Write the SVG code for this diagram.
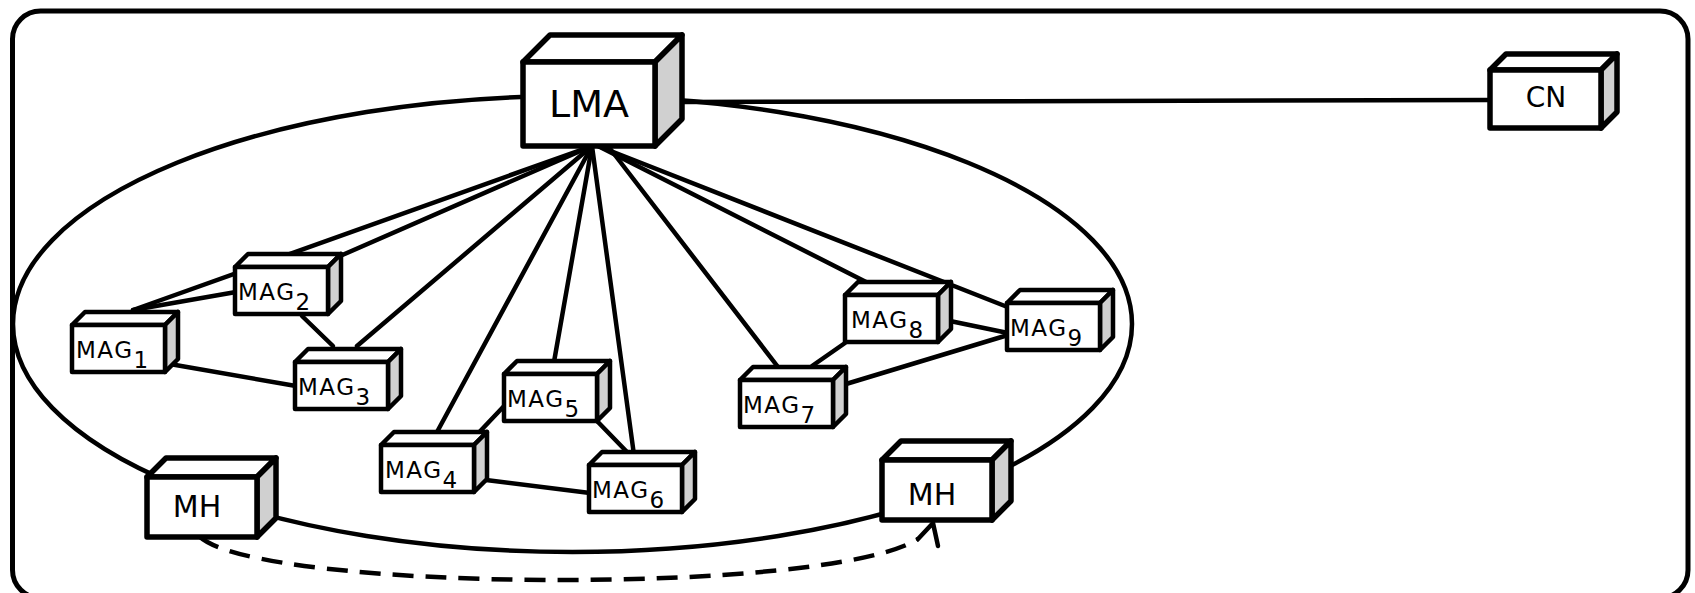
<svg xmlns="http://www.w3.org/2000/svg" xmlns:xlink="http://www.w3.org/1999/xlink" width="1695" height="593" viewBox="0 0 1695 593">
  <style>
    .frame { fill: none; stroke: #000; stroke-width: 5; }
    .domain { fill: none; stroke: #000; stroke-width: 4.5; }
    .link { stroke: #000; stroke-width: 4.5; fill: none; stroke-linecap: round; }
    .move { stroke: #000; stroke-width: 4.5; fill: none; stroke-dasharray: 21 12; }
    .tip { stroke: #000; stroke-width: 4.5; fill: none; stroke-linecap: round; stroke-linejoin: round; }
    .face { fill: #fff; stroke: #000; stroke-linejoin: round; }
    .side { fill: #d0d0d0; stroke: #000; stroke-linejoin: round; }
    .big { stroke-width: 5.5; }
    .small { stroke-width: 4.5; }
    .lbl { font-family: "DejaVu Sans", "Liberation Sans", sans-serif; fill: #000; }
    .mag { font-size: 23px; letter-spacing: 1.5px; }
  </style>
  <defs>
    <!-- small access-gateway box: front face 93x47, depth 13 -->
    <g id="magBox">
      <polygon class="face small" points="0,0 13,-13 106,-13 93,0"/>
      <polygon class="side small" points="93,0 106,-13 106,34 93,47"/>
      <rect class="face small" x="0" y="0" width="93" height="47"/>
    </g>
    <!-- host box: front face 110x60, depth 19 -->
    <g id="hostBox">
      <polygon class="face big" points="0,0 19,-19 129,-19 110,0"/>
      <polygon class="side big" points="110,0 129,-19 129,41 110,60"/>
      <rect class="face big" x="0" y="0" width="110" height="60"/>
    </g>
  </defs>

  <!-- outer frame -->
  <rect class="frame" x="12.5" y="11" width="1675.5" height="587" rx="28" ry="28"/>

  <!-- PMIPv6 domain -->
  <ellipse class="domain" cx="572.5" cy="324" rx="559.5" ry="228"/>

  <g id="connectors">
    <!-- LMA to CN -->
    <line class="link" x1="682" y1="102" x2="1490" y2="100"/>
    <!-- LMA to each MAG -->
    <line class="link" x1="592" y1="146" x2="133" y2="310"/>
    <line class="link" x1="592" y1="146" x2="340" y2="256"/>
    <line class="link" x1="592" y1="146" x2="357" y2="346"/>
    <line class="link" x1="592" y1="146" x2="437" y2="432"/>
    <line class="link" x1="592" y1="146" x2="554" y2="362"/>
    <line class="link" x1="592" y1="146" x2="634" y2="455"/>
    <line class="link" x1="608" y1="146" x2="778" y2="367"/>
    <line class="link" x1="598" y1="146" x2="872" y2="285"/>
    <line class="link" x1="598" y1="146" x2="1010" y2="308"/>
    <!-- MAG mesh -->
    <line class="link" x1="133" y1="310" x2="236" y2="292"/>
    <line class="link" x1="302" y1="316" x2="333" y2="346"/>
    <line class="link" x1="164" y1="363" x2="296" y2="386"/>
    <line class="link" x1="468" y1="444" x2="505" y2="405"/>
    <line class="link" x1="597" y1="421" x2="628" y2="453"/>
    <line class="link" x1="486" y1="480" x2="590" y2="493"/>
    <line class="link" x1="812" y1="366" x2="845" y2="343"/>
    <line class="link" x1="846" y1="384" x2="1008" y2="335"/>
    <line class="link" x1="950" y1="321" x2="1008" y2="333"/>
    <!-- handover of the mobile host -->
    <path class="move" d="M200,537 C262,592 828,596 918,539"/>
    <polyline class="tip" points="918,539 933,523 938,546"/>
  </g>

  <g id="lma">
    <polygon class="face big" points="523,62 550,35 682,35 655,62"/>
    <polygon class="side big" points="655,62 682,35 682,119 655,146"/>
    <rect class="face big" x="523" y="62" width="132" height="84"/>
    <text class="lbl" x="589" y="117" font-size="38" text-anchor="middle">LMA</text>
  </g>

  <g id="cn">
    <polygon class="face big" points="1490,70 1506,54 1617,54 1601,70"/>
    <polygon class="side big" points="1601,70 1617,54 1617,112 1601,128"/>
    <rect class="face big" x="1490" y="70" width="111" height="58"/>
    <text class="lbl" x="1546" y="107" font-size="28" text-anchor="middle">CN</text>
  </g>

  <g id="mag1">
    <use xlink:href="#magBox" x="72" y="325"/>
    <text class="lbl mag" x="76" y="358">MAG<tspan dy="10">1</tspan></text>
  </g>
  <g id="mag2">
    <use xlink:href="#magBox" x="235" y="267"/>
    <text class="lbl mag" x="238" y="300">MAG<tspan dy="10">2</tspan></text>
  </g>
  <g id="mag3">
    <use xlink:href="#magBox" x="295" y="362"/>
    <text class="lbl mag" x="298" y="395">MAG<tspan dy="10">3</tspan></text>
  </g>
  <g id="mag4">
    <use xlink:href="#magBox" x="381" y="445"/>
    <text class="lbl mag" x="385" y="478">MAG<tspan dy="10">4</tspan></text>
  </g>
  <g id="mag5">
    <use xlink:href="#magBox" x="504" y="374"/>
    <text class="lbl mag" x="507" y="407">MAG<tspan dy="10">5</tspan></text>
  </g>
  <g id="mag6">
    <use xlink:href="#magBox" x="589" y="465"/>
    <text class="lbl mag" x="592" y="498">MAG<tspan dy="10">6</tspan></text>
  </g>
  <g id="mag7">
    <use xlink:href="#magBox" x="740" y="380"/>
    <text class="lbl mag" x="743" y="413">MAG<tspan dy="10">7</tspan></text>
  </g>
  <g id="mag8">
    <use xlink:href="#magBox" x="845" y="295"/>
    <text class="lbl mag" x="851" y="328">MAG<tspan dy="10">8</tspan></text>
  </g>
  <g id="mag9">
    <use xlink:href="#magBox" x="1007" y="303"/>
    <text class="lbl mag" x="1010" y="336">MAG<tspan dy="10">9</tspan></text>
  </g>

  <g id="mh-old">
    <use xlink:href="#hostBox" x="147" y="477"/>
    <text class="lbl" x="197" y="517" font-size="30" text-anchor="middle">MH</text>
  </g>
  <g id="mh-new">
    <use xlink:href="#hostBox" x="882" y="460"/>
    <text class="lbl" x="932" y="505" font-size="30" text-anchor="middle">MH</text>
  </g>
</svg>
